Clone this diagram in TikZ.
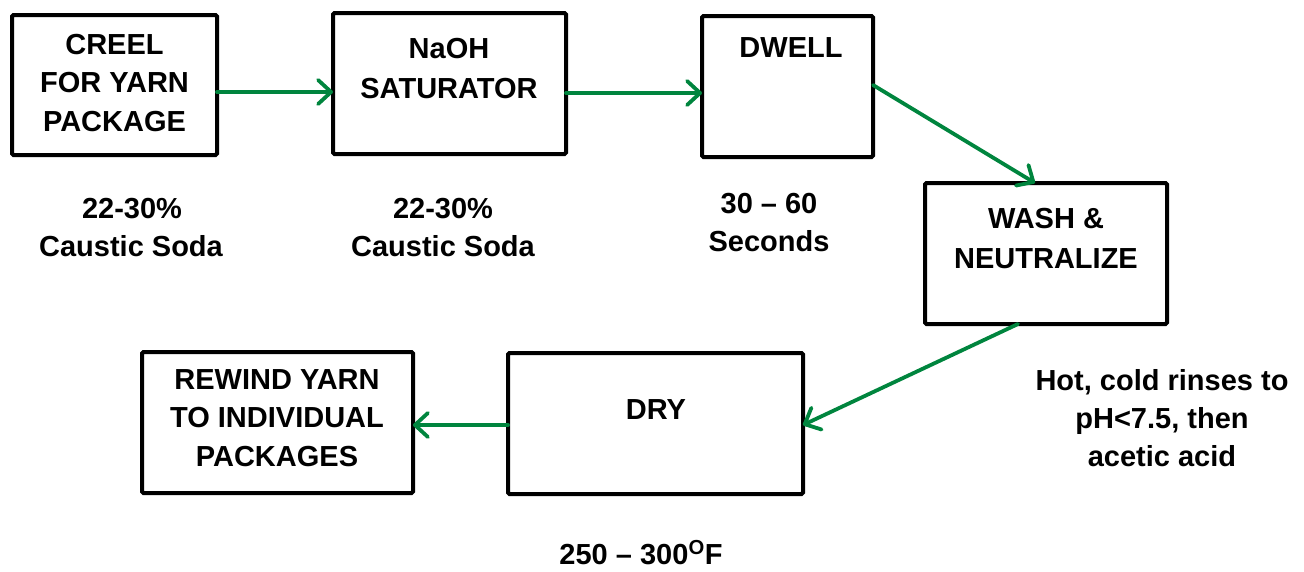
\documentclass[tikz,border=0pt]{standalone}
\usepackage{fontspec}
\setmainfont{Liberation Sans}
\usetikzlibrary{arrows.meta}
\definecolor{flowgreen}{RGB}{0,133,62}
\begin{document}
\begin{tikzpicture}[x=1pt,y=-1pt,
  box/.style={draw, line width=4pt, rounded corners=1.5pt, outer sep=0pt, inner sep=0pt},
  txt/.style={font=\fontsize{29}{34}\selectfont\bfseries, anchor=base, inner sep=0pt},
  flow/.style={draw=flowgreen, line width=3.8pt, line cap=round,
    -{Straight Barb[length=13pt,width=24pt,line cap=round,line join=round]}}]
\useasboundingbox (0,0) rectangle (1304,571);
% boxes
\node[box, minimum width=205pt, minimum height=140pt] (creel) at (114.5,85) {};
\node[box, minimum width=233pt, minimum height=141pt] (naoh) at (449.5,83.5) {};
\node[box, minimum width=171pt, minimum height=141pt] (dwell) at (787.5,86.5) {};
\node[box, minimum width=242pt, minimum height=141pt] (wash) at (1046,253.5) {};
\node[box, minimum width=295pt, minimum height=141pt] (dry) at (655.5,423.5) {};
\node[box, minimum width=271pt, minimum height=141pt] (rewind) at (277.5,422.5) {};
% box texts
\node[txt] (creel1) at (114.5,54) {CREEL};
\node[txt] (creel2) at (114.5,92.5) {FOR YARN};
\node[txt] (creel3) at (114.5,131) {PACKAGE};
\node[txt] (naoh1) at (449,58) {NaOH};
\node[txt] (naoh2) at (449,98) {SATURATOR};
\node[txt] (dwell1) at (791,57) {DWELL};
\node[txt] (wash1) at (1046,228) {WASH \&};
\node[txt] (wash2) at (1046,268) {NEUTRALIZE};
\node[txt] (dry1) at (656,419) {DRY};
\node[txt] (rew1) at (277,389) {REWIND YARN};
\node[txt] (rew2) at (277,427.5) {TO INDIVIDUAL};
\node[txt] (rew3) at (277,466) {PACKAGES};
% notes
\node[txt] (n1a) at (132,218) {22-30\%};
\node[txt] (n1b) at (131,256) {Caustic Soda};
\node[txt] (n2a) at (443,218) {22-30\%};
\node[txt] (n2b) at (443,256) {Caustic Soda};
\node[txt] (n3a) at (769,213) {30 – 60};
\node[txt] (n3b) at (769,251) {Seconds};
\node[txt] (n4a) at (1162,390) {Hot, cold rinses to};
\node[txt] (n4b) at (1162,428) {pH<7.5, then};
\node[txt] (n4c) at (1162,466) {acetic acid};
\node[txt] (n5) at (641,564) {250 – 300\textsuperscript{O}F};
% connectors
\draw[flow] ([yshift=-7pt]creel.east) -- ([yshift=-7pt]creel.east -| naoh.west);
\draw[flow] ([yshift=-9.5pt]naoh.east) -- ([yshift=-9.5pt]naoh.east -| dwell.west);
\draw[flow] ([yshift=1.5pt]dwell.east) -- ([xshift=-11pt]wash.north);
\draw[flow] ([xshift=-28pt]wash.south) -- ([yshift=-1.5pt]dry.east);
\draw[flow] ([yshift=-1.5pt]dry.west) -- ([yshift=-1.5pt]dry.west -| rewind.east);
\end{tikzpicture}
\end{document}
